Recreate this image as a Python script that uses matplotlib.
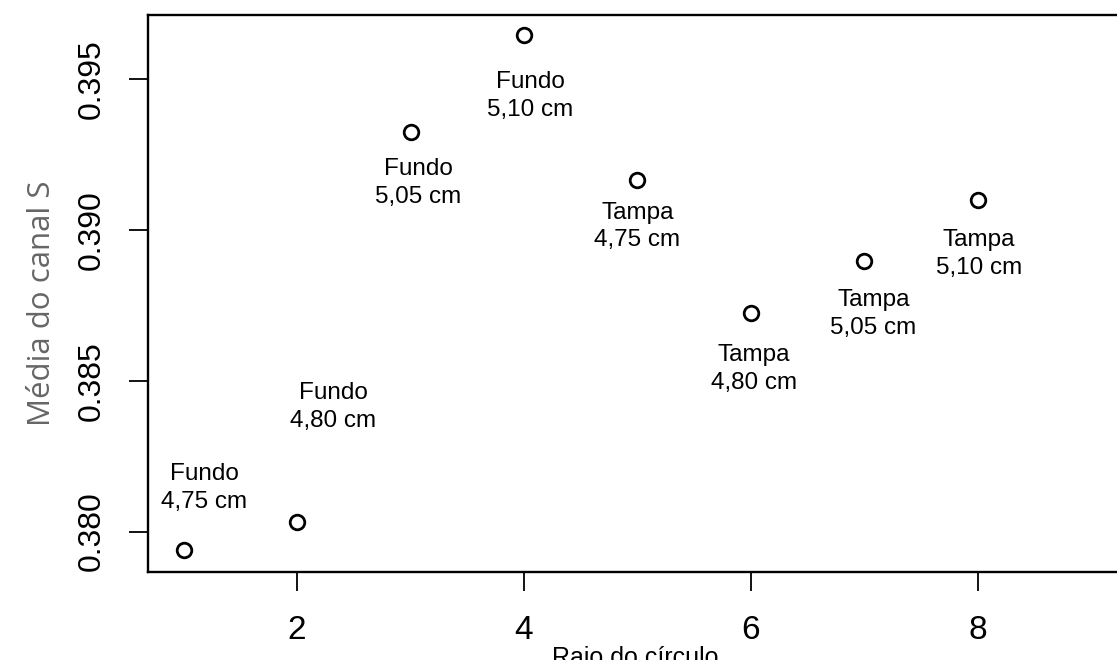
"""Mean S-channel value versus circle radius, with each point labelled."""

import matplotlib
matplotlib.use("Agg")
import matplotlib.pyplot as plt

# circle radius index and mean of the S channel
raio = [1, 2, 3, 4, 5, 6, 7, 8]
media_s = [0.37939, 0.38032, 0.39324, 0.39646, 0.39166, 0.38725, 0.38897, 0.39099]
parte = ["Fundo", "Fundo", "Fundo", "Fundo", "Tampa", "Tampa", "Tampa", "Tampa"]
diametro = ["4,75 cm", "4,80 cm", "5,05 cm", "5,10 cm", "4,75 cm", "4,80 cm", "5,05 cm", "5,10 cm"]

# label placement relative to each point, in pixels
label_offsets = [(21, 62), (36, 115), (8, -51), (6, -61), (0, -47), (3, -56), (9, -53), (1, -54)]

plt.rcParams["font.family"] = ["Liberation Sans", "DejaVu Sans"]

fig = plt.figure(figsize=(11.17, 6.6), dpi=100)
ax = fig.add_axes([148 / 1117, 88 / 660, 1 - 148 / 1117, 557 / 660])

ax.plot(raio, media_s, linestyle="none", marker="o", markersize=10.5,
        markerfacecolor="none", markeredgecolor="black", markeredgewidth=2.0)

for x, y, p, d, (dx, dy) in zip(raio, media_s, parte, diametro, label_offsets):
    ax.annotate(f"{p}\n{d}", (x, y), xytext=(dx, dy), textcoords="offset pixels",
                ha="center", va="center", fontsize=17.5, linespacing=1.32)

ax.set_xlim(0.687, 9.225)
ax.set_ylim(0.37866, 0.39712)
ax.set_xticks([2, 4, 6, 8])
ax.set_yticks([0.380, 0.385, 0.390, 0.395])
ax.set_yticklabels(["0.380", "0.385", "0.390", "0.395"], rotation=90, va="center")

for side in ("left", "bottom", "top"):
    ax.spines[side].set_linewidth(1.7)
ax.spines["right"].set_visible(False)

ax.tick_params(axis="both", direction="out", length=14, width=1.3, color="black")
ax.tick_params(axis="x", labelsize=24, pad=17)
ax.tick_params(axis="y", labelsize=23, pad=16)

ax.set_xlabel("Raio do círculo", fontsize=18, labelpad=0)
ax.xaxis.label.set_position(((635 - 148) / (1117 - 148), 0))
ax.set_ylabel("Média do canal S", fontsize=22.5, color="#666666",
              family=["Open Sans", "DejaVu Sans"], labelpad=14)
ax.yaxis.label.set_position((0, 0.483))

fig.savefig("out.png", dpi=100)
